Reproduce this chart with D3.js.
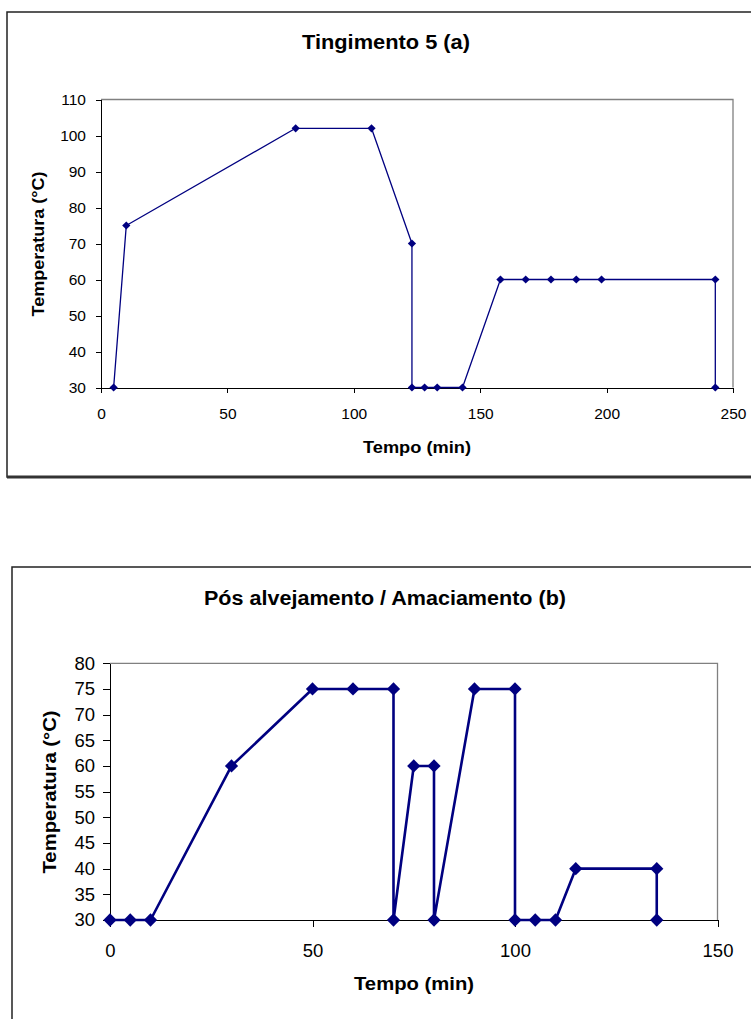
<!DOCTYPE html>
<meta charset="utf-8">
<style>

body {
  margin: 0;
  background: #fff;
}

svg {
  display: block;
  font-family: Arial, "Liberation Sans", sans-serif;
}

.axis path, .axis line {
  stroke: #000;
  shape-rendering: crispEdges;
}

.axis text {
  fill: #000;
}

</style>
<svg width="751" height="1019"></svg>
<script src="https://cdn.jsdelivr.net/npm/d3@7"></script>
<script>

// chart (a) - Tingimento 5
var tempoA = [5, 10, 77, 107, 123, 123, 128, 133, 143, 158, 168, 178, 188, 198, 243, 243];
var tempA  = [30, 75, 102, 102, 70, 30, 30, 30, 30, 60, 60, 60, 60, 60, 60, 30];
var xTicksA = [0, 50, 100, 150, 200, 250];
var yTicksA = [30, 40, 50, 60, 70, 80, 90, 100, 110];

// chart (b) - Pos alvejamento / Amaciamento
var tempoB = [0, 5, 10, 30, 50, 60, 70, 70, 75, 80, 80, 90, 100, 100, 105, 110, 115, 135, 135];
var tempB  = [30, 30, 30, 60, 75, 75, 75, 30, 60, 60, 30, 75, 75, 30, 30, 30, 40, 40, 30];
var xTicksB = [0, 50, 100, 150];
var yTicksB = [30, 35, 40, 45, 50, 55, 60, 65, 70, 75, 80];

var svg = d3.select("svg");

function drawChart(cfg) {
  var g = svg.append('g');

  // outer chart frame
  g.append('rect')
    .attr('x', cfg.box[0]).attr('y', cfg.box[1])
    .attr('width', cfg.box[2]).attr('height', cfg.box[3])
    .attr('fill', 'none')
    .attr('stroke', '#222')
    .attr('stroke-width', 1.5);
  if (cfg.boxBottom) {
    g.append('line')
      .attr('x1', cfg.box[0]).attr('x2', cfg.box[0] + cfg.box[2])
      .attr('y1', cfg.box[1] + cfg.box[3]).attr('y2', cfg.box[1] + cfg.box[3])
      .attr('stroke', '#333')
      .attr('stroke-width', 3);
  }

  var x = d3.scaleLinear()
      .domain([cfg.xTicks[0], cfg.xTicks[cfg.xTicks.length - 1]])
      .range([cfg.plot.l, cfg.plot.r]);
  var y = d3.scaleLinear()
      .domain([cfg.yTicks[0], cfg.yTicks[cfg.yTicks.length - 1]])
      .range([cfg.plot.b, cfg.plot.t]);

  // grey plot-area border (top + right)
  g.append('path')
    .attr('d', 'M' + cfg.plot.l + ',' + cfg.plot.t + 'H' + cfg.plot.r + 'V' + cfg.plot.b)
    .attr('fill', 'none')
    .attr('stroke', '#808080')
    .attr('stroke-width', 1.3);

  g.append('g')
    .attr('class', 'axis')
    .attr('transform', 'translate(' + cfg.plot.l + ',0)')
    .style('font-size', cfg.tickFont + 'px')
    .call(d3.axisLeft(y)
      .tickValues(cfg.yTicks)
      .tickSize(cfg.tick)
      .tickSizeOuter(0)
      .tickPadding(cfg.yPad))
    .call(function(a) { a.attr('font-family', null).attr('font-size', null); });

  g.append('g')
    .attr('class', 'axis')
    .attr('transform', 'translate(0,' + cfg.plot.b + ')')
    .style('font-size', cfg.tickFont + 'px')
    .call(d3.axisBottom(x)
      .tickValues(cfg.xTicks)
      .tickSize(cfg.tick)
      .tickSizeOuter(0)
      .tickPadding(cfg.xPad))
    .call(function(a) { a.attr('font-family', null).attr('font-size', null); });

  var pts = cfg.xs.map(function(d, i) { return [d, cfg.ys[i]]; });

  g.append('path')
    .datum(pts)
    .attr('fill', 'none')
    .attr('stroke', '#000080')
    .attr('stroke-width', cfg.lineW)
    .attr('stroke-linejoin', 'round')
    .attr('d', d3.line()
      .x(function(d) { return x(d[0]); })
      .y(function(d) { return y(d[1]); }));

  g.selectAll('.marker')
    .data(pts)
    .enter()
    .append('path')
      .attr('class', 'marker')
      .attr('d', d3.symbol().type(d3.symbolSquare).size(cfg.markSize))
      .attr('fill', '#000080')
      .attr('transform', function(d) {
        return 'translate(' + x(d[0]) + ',' + y(d[1]) + ') rotate(45)';
      });

  // title + axis titles
  g.append('text')
    .attr('x', cfg.title.x).attr('y', cfg.title.y)
    .attr('text-anchor', 'middle')
    .attr('font-weight', 'bold')
    .attr('font-size', cfg.title.size)
    .attr('textLength', cfg.title.len)
    .attr('lengthAdjust', 'spacingAndGlyphs')
    .text(cfg.title.text);

  g.append('text')
    .attr('x', cfg.xLabel.x).attr('y', cfg.xLabel.y)
    .attr('text-anchor', 'middle')
    .attr('font-weight', 'bold')
    .attr('font-size', cfg.xLabel.size)
    .attr('textLength', cfg.xLabel.len)
    .attr('lengthAdjust', 'spacingAndGlyphs')
    .text('Tempo (min)');

  g.append('text')
    .attr('transform', 'translate(' + cfg.yLabel.x + ',' + cfg.yLabel.y + ') rotate(-90)')
    .attr('text-anchor', 'middle')
    .attr('font-weight', 'bold')
    .attr('font-size', cfg.yLabel.size)
    .attr('textLength', cfg.yLabel.len)
    .attr('lengthAdjust', 'spacingAndGlyphs')
    .text('Temperatura (°C)');
}

drawChart({
  xs: tempoA, ys: tempA, xTicks: xTicksA, yTicks: yTicksA,
  box: [7, 12, 760, 465], boxBottom: true,
  plot: {l: 101, t: 99.5, r: 733, b: 387.5},
  tick: 5, yPad: 10, xPad: 15.5, tickFont: 15.5,
  lineW: 1.3, markSize: 34,
  title: {text: 'Tingimento 5 (a)', x: 386, y: 49, size: 20, len: 168},
  xLabel: {x: 417, y: 452.5, size: 16, len: 108},
  yLabel: {x: 44, y: 244, size: 16, len: 145}
});

drawChart({
  xs: tempoB, ys: tempB, xTicks: xTicksB, yTicks: yTicksB,
  box: [12, 567, 760, 480], boxBottom: false,
  plot: {l: 110, t: 663.3, r: 717.5, b: 920},
  tick: 7, yPad: 8, xPad: 17, tickFont: 18.5,
  lineW: 2.6, markSize: 88,
  title: {text: 'Pós alvejamento / Amaciamento (b)', x: 385, y: 605, size: 20, len: 362},
  xLabel: {x: 414, y: 990, size: 18, len: 120},
  yLabel: {x: 56, y: 792, size: 18, len: 163}
});

</script>
